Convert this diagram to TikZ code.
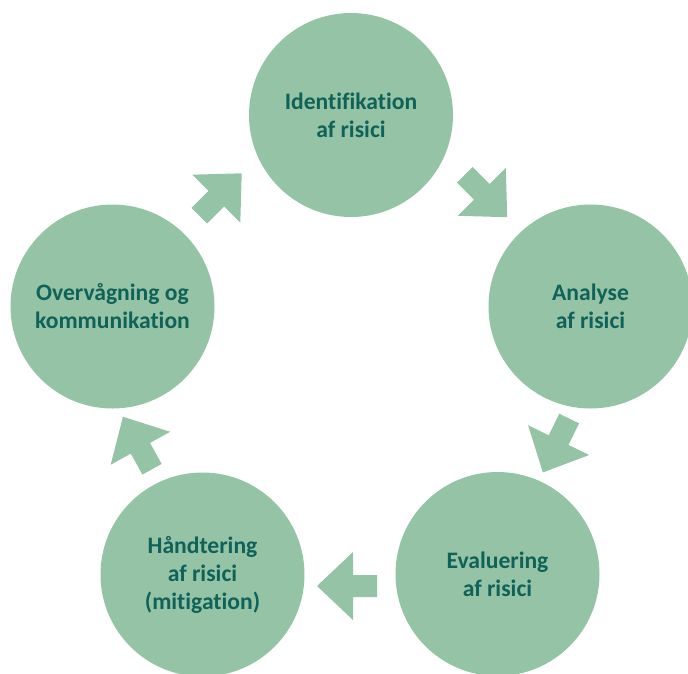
\documentclass[tikz,border=0pt]{standalone}
\usepackage{fontspec}
\setmainfont{Carlito}[Ligatures=NoCommon]
\usetikzlibrary{positioning}
\definecolor{phasegreen}{RGB}{149,195,165}
\definecolor{phasetext}{RGB}{16,98,88}
\tikzset{flow/.pic={\fill[phasegreen] (-30,-11) -- (-6,-11) -- (-6,-34) -- (30,0) -- (-6,34) -- (-6,11) -- (-30,11) -- cycle;}}

\begin{document}
\begin{tikzpicture}[x=1pt,y=-1pt]
\tikzstyle{phase}=[circle,fill=phasegreen,minimum size=204pt,inner sep=0pt,text=phasetext,font=\fontsize{23.6}{28}\selectfont\bfseries,align=center]

\useasboundingbox (0,0) rectangle (688,673);

\node[phase] (I) at (351,115)   {Identifikation\\af risici};
\node[phase] (A) at (590.5,306.5) {Analyse\\af risici};
\node[phase] (E) at (497.5,574) {Evaluering\\af risici};
\node[phase] (H) at (202.5,574.5) {Håndtering\\af risici\\(mitigation)};
\node[phase] (O) at (112.5,306.5) {Overvågning og\\kommunikation};

\coordinate (IA) at (486,196);
\coordinate (AE) at (556,445.5);
\coordinate (EH) at (347,586);
\coordinate (HO) at (137.5,443);
\coordinate (OI) at (220.5,194.5);

\pic[rotate=-45] at (IA) {flow};
\pic[rotate=244] at (AE) {flow};
\pic[rotate=180] at (EH) {flow};
\pic[rotate=119] at (HO) {flow};
\pic[rotate=45]  at (OI) {flow};
\end{tikzpicture}
\end{document}
